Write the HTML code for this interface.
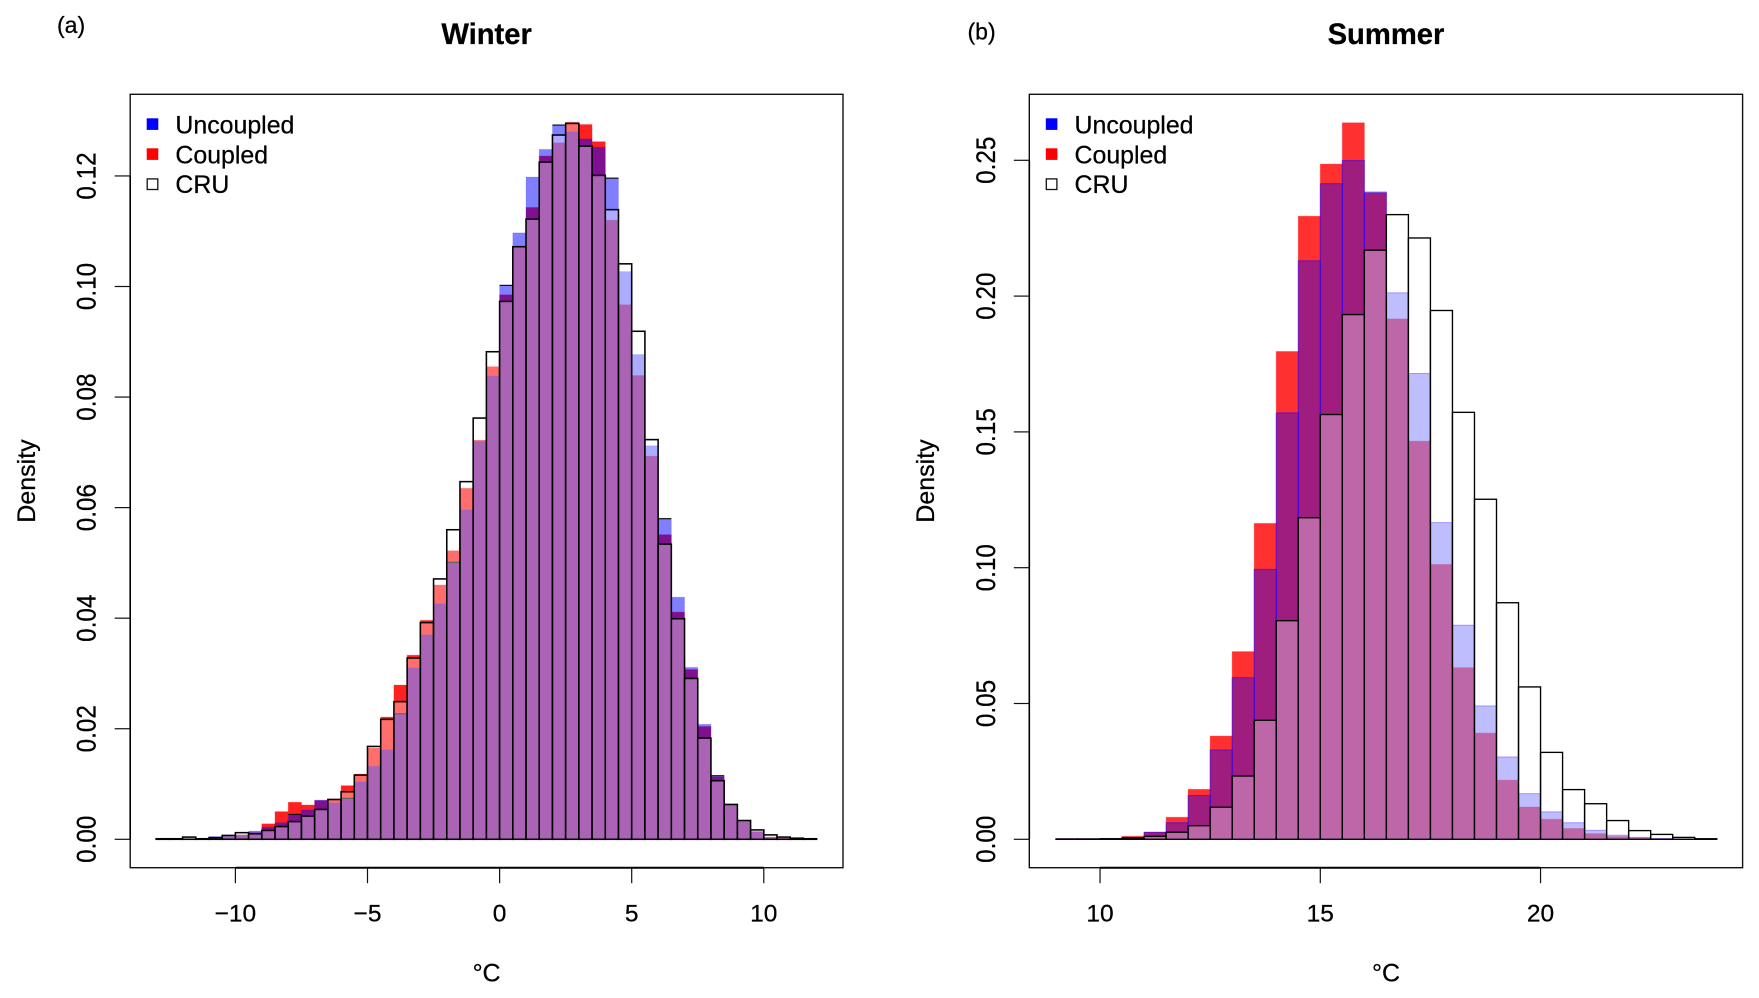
<!DOCTYPE html>
<html lang="en">
<head>
<meta charset="utf-8">
<title>Winter and Summer temperature histograms</title>
<style>
  html, body { margin: 0; padding: 0; background: #fff; }
  body { width: 1759px; height: 998px; overflow: hidden; }
  svg { display: block; }
  text { font-family: "Liberation Sans", sans-serif; fill: #000; stroke: #000; stroke-width: 0.25px; }
</style>
</head>
<body>
<svg id="figure" xmlns="http://www.w3.org/2000/svg" width="1759" height="998" viewBox="0 0 1759 998">
  <rect x="0" y="0" width="1759" height="998" fill="#fff"/>

  <g id="panel-a">
    <text x="57" y="33" font-size="23">(a)</text>
    <text x="486.6" y="43.8" font-size="29.2" font-weight="bold" text-anchor="middle">Winter</text>
    <text x="486.6" y="981.5" font-size="25" text-anchor="middle">°C</text>
    <text transform="translate(35,481) rotate(-90)" font-size="25" text-anchor="middle">Density</text>
  </g>

  <g id="panel-b">
    <text x="967.5" y="39.3" font-size="23">(b)</text>
    <text x="1386" y="43.8" font-size="29.2" font-weight="bold" text-anchor="middle">Summer</text>
    <text x="1386" y="981.5" font-size="25" text-anchor="middle">°C</text>
    <text transform="translate(934,481) rotate(-90)" font-size="25" text-anchor="middle">Density</text>
  </g>
</svg>

<script>
// ---------- Winter data ----------
const winterBinStarts = [-13,-12.5,-12,-11.5,-11,-10.5,-10,-9.5,-9,-8.5,-8,-7.5,-7,-6.5,-6,-5.5,-5,-4.5,-4,-3.5,-3,-2.5,-2,-1.5,-1,-0.5,0,0.5,1,1.5,2,2.5,3,3.5,4,4.5,5,5.5,6,6.5,7,7.5,8,8.5,9,9.5,10,10.5,11,11.5];
const winterUncoupled = [0.0001,0.0001,0.0001,0.0001,0.0005,0.0006,0.0008,0.0015,0.0022,0.0030,0.0045,0.0053,0.0071,0.0066,0.0074,0.0104,0.0132,0.0162,0.0227,0.0310,0.0370,0.0426,0.0501,0.0596,0.0720,0.0838,0.1002,0.1097,0.1198,0.1248,0.1292,0.1280,0.1267,0.1252,0.1196,0.1027,0.0877,0.0712,0.0580,0.0438,0.0311,0.0208,0.0115,0.0064,0.0033,0.0014,0.0004,0.0002,0.0001,0.0001];
const winterCoupled = [0.0001,0.0001,0.0001,0.0001,0.0002,0.0005,0.0008,0.0012,0.0028,0.0050,0.0067,0.0062,0.0070,0.0073,0.0097,0.0118,0.0165,0.0221,0.0279,0.0333,0.0396,0.0460,0.0522,0.0635,0.0722,0.0855,0.0985,0.1072,0.1143,0.1236,0.1260,0.1297,0.1293,0.1262,0.1120,0.0967,0.0839,0.0693,0.0551,0.0411,0.0307,0.0204,0.0113,0.0062,0.0033,0.0014,0.0004,0.0002,0.0001,0.0001];
const winterCRU = [0.0001,0.0001,0.0004,0.0001,0.0003,0.0007,0.0012,0.0010,0.0016,0.0023,0.0032,0.0042,0.0054,0.0072,0.0086,0.0116,0.0168,0.0217,0.0249,0.0328,0.0392,0.0471,0.0560,0.0647,0.0762,0.0882,0.0973,0.1072,0.1122,0.1225,0.1274,0.1295,0.1254,0.1201,0.1139,0.1041,0.0919,0.0723,0.0534,0.0399,0.0291,0.0183,0.0106,0.0063,0.0034,0.0017,0.0008,0.0004,0.0002,0.0001];
const winterCappedBins = [-8, -6, -4, -2, 0, 2, 4, 6, 8];
const winterXTicks = [-10, -5, 0, 5, 10];
const winterXLabels = ["\u221210", "\u22125", "0", "5", "10"];
const winterYTicks = [0, 0.02, 0.04, 0.06, 0.08, 0.10, 0.12];
const winterYLabels = ["0.00", "0.02", "0.04", "0.06", "0.08", "0.10", "0.12"];

// ---------- Summer data ----------
const summerBinStarts = [9,9.5,10,10.5,11,11.5,12,12.5,13,13.5,14,14.5,15,15.5,16,16.5,17,17.5,18,18.5,19,19.5,20,20.5,21,21.5,22,22.5,23,23.5];
const summerUncoupled = [0.0002,0.0002,0.0003,0.0007,0.0025,0.0061,0.0161,0.0329,0.0595,0.0994,0.1570,0.2130,0.2414,0.2499,0.2383,0.2012,0.1715,0.1166,0.0788,0.0491,0.0303,0.0168,0.0101,0.0061,0.0033,0.0015,0.0007,0.0003,0.0001,0.0001];
const summerCoupled = [0.0002,0.0002,0.0003,0.0011,0.0027,0.0081,0.0184,0.0380,0.0691,0.1163,0.1796,0.2294,0.2486,0.2638,0.2380,0.1916,0.1466,0.1012,0.0632,0.0391,0.0218,0.0119,0.0074,0.0040,0.0021,0.0010,0.0006,0.0003,0.0001,0.0001];
const summerCRU = [0.0001,0.0001,0.0002,0.0005,0.0011,0.0026,0.0050,0.0118,0.0233,0.0438,0.0805,0.1184,0.1564,0.1932,0.2169,0.2300,0.2214,0.1947,0.1572,0.1252,0.0871,0.0561,0.0320,0.0183,0.0131,0.0069,0.0032,0.0018,0.0007,0.0002];
const summerCappedBins = [];
const summerXTicks = [10, 15, 20];
const summerXLabels = ["10", "15", "20"];
const summerYTicks = [0, 0.05, 0.10, 0.15, 0.20, 0.25];
const summerYLabels = ["0.00", "0.05", "0.10", "0.15", "0.20", "0.25"];

// ---------- Legend ----------
const legendLabels = ["Uncoupled", "Coupled", "CRU"];

const SVG_NS = "http://www.w3.org/2000/svg";

function make(parent, tag, attrs) {
  const el = document.createElementNS(SVG_NS, tag);
  for (const key in attrs) {
    el.setAttribute(key, attrs[key]);
  }
  parent.appendChild(el);
  return el;
}

function drawPanel(cfg) {
  const root = document.getElementById(cfg.rootId);
  const xScale = function (v) { return cfg.xZero + (v - cfg.xRef) * cfg.xPerUnit; };
  const yScale = function (v) { return cfg.yZero - v * cfg.yPerUnit; };
  const barWidth = cfg.binWidth * cfg.xPerUnit;

  // Coupled bars (bottom layer)
  const coupledGroup = make(root, "g", { fill: cfg.redFill, stroke: cfg.redStroke, "stroke-width": 1 });
  
  
  cfg.bins.forEach(function (b, i) {
    const top = yScale(cfg.coupled[i]);
    const bar = make(coupledGroup, "rect", { x: xScale(b), y: top, width: barWidth, height: cfg.yZero - top });
    
    
  });

  // Uncoupled bars (middle layer)
  const uncoupledGroup = make(root, "g", { fill: cfg.blueFill, stroke: cfg.blueStroke, "stroke-width": 1 });
  
  
  cfg.bins.forEach(function (b, i) {
    const top = yScale(cfg.uncoupled[i]);
    const bar = make(uncoupledGroup, "rect", { x: xScale(b), y: top, width: barWidth, height: cfg.yZero - top });
    
    
  });

  // Dark caps seen on some Uncoupled bars
  cfg.bins.forEach(function (b, i) {
    if (cfg.capped.indexOf(b) === -1) { return; }
    const top = yScale(cfg.uncoupled[i]);
    const cap = make(root, "line", { x1: xScale(b), x2: xScale(b) + barWidth, y1: top, y2: top, stroke: "#111", "stroke-width": 1.2 });
    
    
  });

  // CRU bars (top layer)
  const cruGroup = make(root, "g", { fill: cfg.cruFill, stroke: "#000", "stroke-width": cfg.cruStroke });
  
  
  cfg.bins.forEach(function (b, i) {
    const top = yScale(cfg.cru[i]);
    const bar = make(cruGroup, "rect", { x: xScale(b), y: top, width: barWidth, height: cfg.yZero - top });
    
    
  });

  // Plot frame
  const frame = make(root, "rect", { x: cfg.left, y: cfg.top, width: cfg.right - cfg.left, height: cfg.bottom - cfg.top, fill: "none", stroke: "#111", "stroke-width": 1.4 });
  
  

  // X axis
  const xAxisLine = make(root, "line", { x1: xScale(cfg.xTicks[0]), x2: xScale(cfg.xTicks[cfg.xTicks.length - 1]), y1: cfg.bottom, y2: cfg.bottom, stroke: "#000", "stroke-width": 2 });
  
  
  cfg.xTicks.forEach(function (t, i) {
    const x = xScale(t);
    const tick = make(root, "line", { x1: x, x2: x, y1: cfg.bottom, y2: cfg.bottom + 15.5, stroke: "#111", "stroke-width": 1.2 });
    
    
    const label = make(root, "text", { x: x, y: 921.7, "font-size": 24.5, "text-anchor": "middle" });
    label.textContent = cfg.xLabels[i];
    
    
  });

  // Y axis
  const yAxisLine = make(root, "line", { x1: cfg.left, x2: cfg.left, y1: yScale(cfg.yTicks[0]), y2: yScale(cfg.yTicks[cfg.yTicks.length - 1]), stroke: "#000", "stroke-width": 1.6 });
  
  
  cfg.yTicks.forEach(function (t, i) {
    const y = yScale(t);
    const tick = make(root, "line", { x1: cfg.left - 15.5, x2: cfg.left, y1: y, y2: y, stroke: "#111", "stroke-width": 1.2 });
    
    
    const label = make(root, "text", { transform: "translate(" + cfg.yLabelX + "," + y + ") rotate(-90) scale(1,1.12)", "font-size": 24.3, "text-anchor": "middle" });
    label.textContent = cfg.yLabels[i];
    
    
  });

  // Legend
  const legend = make(root, "g", {});
  
  
  const swatchFills = ["#0000ff", "#ff0000", "#ffffff"];
  const baselines = [133.3, 163.3, 192.9];
  legendLabels.forEach(function (name, i) {
    const isOutline = i === 2;
    const swatch = make(legend, "rect", {
      x: cfg.left + (isOutline ? 17 : 16.5),
      y: baselines[i] - (isOutline ? 14 : 15),
      width: isOutline ? 10.6 : 11.6,
      height: isOutline ? 10.6 : 11.6,
      fill: swatchFills[i],
      stroke: isOutline ? "#111" : "none",
      "stroke-width": 1.3
    });
    
    
    const text = make(legend, "text", { x: cfg.left + 45.2, y: baselines[i], "font-size": 24.9 });
    text.textContent = name;
    
    
  });
}

drawPanel({
  rootId: "panel-a",
  bins: winterBinStarts, uncoupled: winterUncoupled, coupled: winterCoupled, cru: winterCRU,
  capped: winterCappedBins,
  xTicks: winterXTicks, xLabels: winterXLabels, yTicks: winterYTicks, yLabels: winterYLabels,
  binWidth: 0.5,
  xZero: 499.6, xRef: 0, xPerUnit: 26.42,
  yZero: 839.3, yPerUnit: 5528,
  left: 130.2, right: 843, top: 94.3, bottom: 867.7,
  yLabelX: 95.4,
  redFill: "rgba(255,0,0,0.875)", redStroke: "rgba(255,0,0,0.25)",
  blueFill: "rgba(0,0,255,0.5)", blueStroke: "rgba(0,0,255,0.12)",
  cruFill: "rgba(255,255,255,0.35)", cruStroke: 1.55
});

drawPanel({
  rootId: "panel-b",
  bins: summerBinStarts, uncoupled: summerUncoupled, coupled: summerCoupled, cru: summerCRU,
  capped: summerCappedBins,
  xTicks: summerXTicks, xLabels: summerXLabels, yTicks: summerYTicks, yLabels: summerYLabels,
  binWidth: 0.5,
  xZero: 1320.3, xRef: 15, xPerUnit: 44.05,
  yZero: 839.3, yPerUnit: 2716,
  left: 1029.3, right: 1742.6, top: 94.3, bottom: 867.7,
  yLabelX: 995,
  redFill: "rgba(255,0,0,0.81)", redStroke: "rgba(255,0,0,0.3)",
  blueFill: "rgba(0,0,255,0.38)", blueStroke: "rgba(40,0,255,0.55)",
  cruFill: "rgba(255,255,255,0.33)", cruStroke: 1.35
});
</script>
</body>
</html>
